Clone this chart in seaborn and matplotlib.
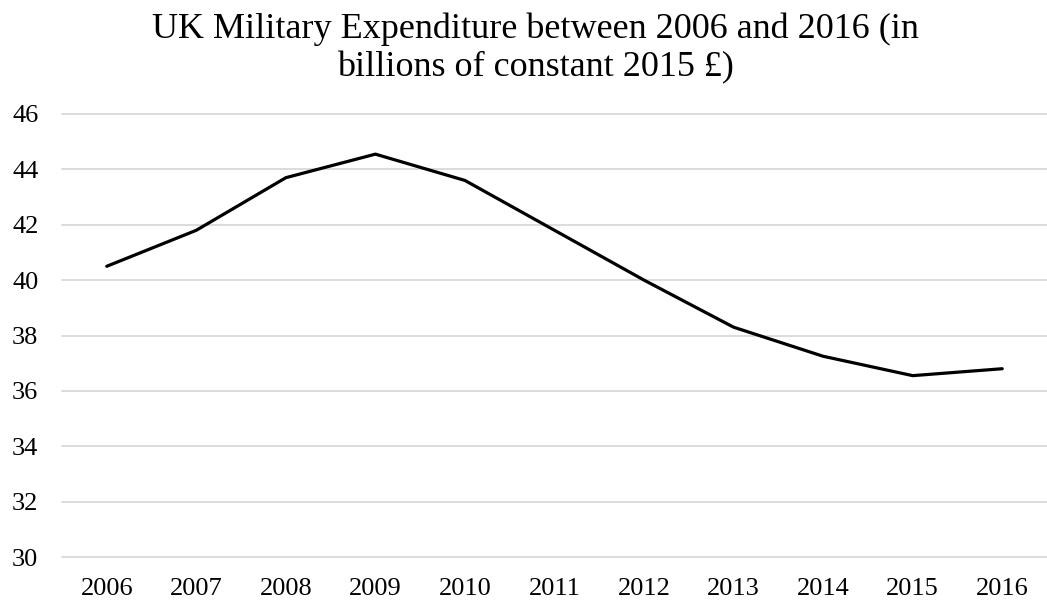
import pandas as pd
import matplotlib.pyplot as plt
import seaborn as sns


# -----------------------------
# DATA
# -----------------------------
years = [2006, 2007, 2008, 2009, 2010, 2011, 2012, 2013, 2014, 2015, 2016]
spending = [40.5, 41.8, 43.7, 44.55, 43.6, 41.8, 40.0, 38.3, 37.25, 36.55, 36.8]
y_ticks = [30, 32, 34, 36, 38, 40, 42, 44, 46]

df = pd.DataFrame({"year": years, "spending": spending})


# -----------------------------
# STYLE
# -----------------------------
sns.set_theme(style="white")
plt.rcParams["font.family"] = ["Liberation Serif", "DejaVu Serif"]
plt.rcParams["text.color"] = "black"
plt.rcParams["xtick.color"] = "black"
plt.rcParams["ytick.color"] = "black"


# -----------------------------
# PLOT
# -----------------------------
fig = plt.figure(figsize=(10.47, 6.08), dpi=100)
ax = fig.add_axes([62 / 1047, 51 / 608, 1 - 62 / 1047, 443 / 608])

sns.lineplot(data=df, x="year", y="spending", color="black", linewidth=2.3, ax=ax)

ax.set_xlim(2005.5, 2016.5)
ax.set_ylim(30, 46)
ax.set_xticks(years)
ax.set_yticks(y_ticks)
ax.grid(axis="y", color="#d9d9d9", linewidth=1.3)
ax.set_axisbelow(True)
for line in ax.get_ygridlines():
    line.set_clip_on(False)

for s in ax.spines.values():
    s.set_visible(False)

ax.tick_params(axis="x", length=0, pad=15, labelsize=19)
ax.tick_params(axis="y", length=0, pad=17, labelsize=19)
ax.set_xlabel("")
ax.set_ylabel("")

fig.text(535 / 1047, 1 - 48 / 608,
         "UK Military Expenditure between 2006 and 2016 (in\nbillions of constant 2015 £)",
         ha="center", va="center", fontsize=26, linespacing=1.2)

plt.savefig("out.png", dpi=100)
